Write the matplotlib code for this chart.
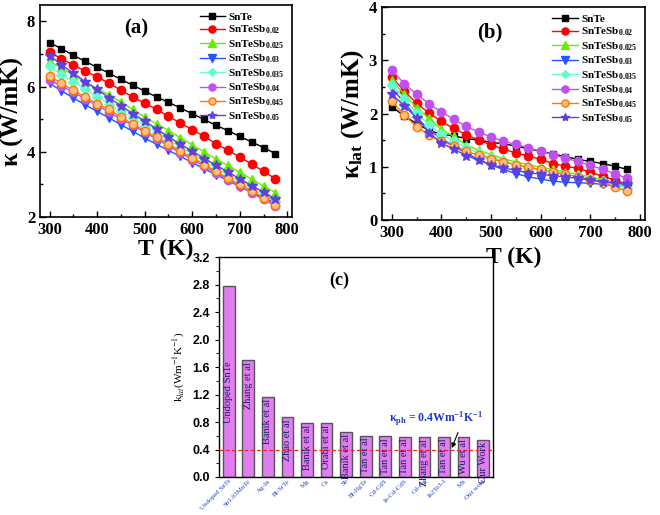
import matplotlib
matplotlib.use('Agg')
import matplotlib.pyplot as plt
from matplotlib.ticker import MultipleLocator

plt.rcParams['font.family'] = ['Liberation Serif', 'DejaVu Serif']
plt.rcParams['mathtext.fontset'] = 'custom'
plt.rcParams['mathtext.rm'] = 'Liberation Serif:bold'
plt.rcParams['mathtext.it'] = 'Liberation Serif:bold'
plt.rcParams['mathtext.bf'] = 'Liberation Serif:bold'

temps = list(range(300, 800, 25))

labels = ['SnTe', 'SnTeSb$_{0.02}$', 'SnTeSb$_{0.025}$', 'SnTeSb$_{0.03}$',
          'SnTeSb$_{0.035}$', 'SnTeSb$_{0.04}$', 'SnTeSb$_{0.045}$', 'SnTeSb$_{0.05}$']

# total thermal conductivity (a)
k_snte = [7.35, 7.16, 6.96, 6.77, 6.59, 6.41, 6.22, 6.04, 5.86, 5.68,
          5.52, 5.34, 5.17, 4.99, 4.81, 4.65, 4.47, 4.30, 4.13, 3.94]
k_002 = [7.06, 6.85, 6.66, 6.47, 6.30, 6.10, 5.89, 5.68, 5.49, 5.30,
         5.09, 4.88, 4.68, 4.47, 4.25, 4.04, 3.84, 3.62, 3.40, 3.17]
k_0025 = [6.77, 6.57, 6.36, 6.15, 5.94, 5.74, 5.53, 5.30, 5.06, 4.86,
          4.65, 4.43, 4.21, 4.00, 3.78, 3.58, 3.37, 3.16, 2.95, 2.75]
k_003 = [6.10, 5.87, 5.65, 5.44, 5.24, 5.04, 4.83, 4.63, 4.42, 4.23,
         4.04, 3.86, 3.67, 3.48, 3.30, 3.12, 2.93, 2.76, 2.57, 2.45]
k_0035 = [6.62, 6.36, 6.15, 5.91, 5.68, 5.47, 5.24, 5.03, 4.80, 4.59,
          4.37, 4.15, 3.93, 3.71, 3.49, 3.29, 3.07, 2.87, 2.67, 2.47]
k_004 = [6.20, 6.02, 5.83, 5.62, 5.42, 5.22, 5.01, 4.81, 4.60, 4.39,
         4.18, 3.97, 3.76, 3.56, 3.35, 3.15, 2.94, 2.74, 2.54, 2.33]
k_0045 = [6.33, 6.10, 5.89, 5.68, 5.48, 5.30, 5.06, 4.85, 4.65, 4.44,
          4.23, 4.02, 3.82, 3.61, 3.40, 3.19, 3.00, 2.81, 2.59, 2.38]
k_005 = [6.95, 6.67, 6.41, 6.15, 5.91, 5.66, 5.41, 5.17, 4.94, 4.70,
         4.46, 4.23, 4.02, 3.79, 3.59, 3.38, 3.17, 2.96, 2.76, 2.55]

# lattice thermal conductivity (b)
kl_snte = [2.13, 1.95, 1.81, 1.68, 1.61, 1.58, 1.53, 1.50, 1.46, 1.43,
           1.39, 1.34, 1.29, 1.24, 1.19, 1.14, 1.10, 1.06, 1.01, 0.95]
kl_002 = [2.68, 2.42, 2.19, 2.01, 1.85, 1.72, 1.60, 1.50, 1.41, 1.33,
          1.26, 1.20, 1.14, 1.06, 1.01, 0.97, 0.90, 0.82, 0.75, 0.67]
kl_0025 = [2.62, 2.36, 2.11, 1.91, 1.70, 1.57, 1.41, 1.31, 1.23, 1.15,
           1.09, 1.04, 0.99, 0.95, 0.90, 0.86, 0.81, 0.76, 0.69, 0.61]
kl_003 = [2.48, 2.20, 1.92, 1.70, 1.52, 1.39, 1.25, 1.14, 1.03, 0.95,
          0.87, 0.81, 0.77, 0.73, 0.71, 0.70, 0.69, 0.67, 0.64, 0.66]
kl_0035 = [2.54, 2.28, 2.01, 1.79, 1.61, 1.48, 1.36, 1.26, 1.17, 1.11,
           1.04, 0.99, 0.95, 0.90, 0.86, 0.82, 0.78, 0.73, 0.67, 0.61]
kl_004 = [2.81, 2.56, 2.36, 2.18, 2.03, 1.89, 1.76, 1.65, 1.56, 1.48,
          1.42, 1.36, 1.29, 1.23, 1.16, 1.10, 1.03, 0.95, 0.87, 0.78]
kl_0045 = [2.23, 1.97, 1.75, 1.59, 1.48, 1.39, 1.29, 1.22, 1.15, 1.09,
           1.04, 0.99, 0.95, 0.90, 0.86, 0.81, 0.76, 0.70, 0.62, 0.54]
kl_005 = [2.36, 2.14, 1.92, 1.64, 1.44, 1.33, 1.21, 1.12, 1.04, 0.98,
          0.93, 0.89, 0.86, 0.83, 0.81, 0.78, 0.75, 0.72, 0.69, 0.67]

# comparison bars (c)
refs = ['Undoped SnTe', 'Zhang et al', 'Banik et al', 'Zhao et al', 'Banik et al',
        'Orabi et al', 'Banik et al', 'Tan et al', 'Tan et al', 'Tan et al',
        'Zhang et al', 'Tan et al', 'Wu et al', 'Our Work']
dopants = ['Undoped SnTe', 'Sn1.03MnTe', 'Ag-In', 'Bi-SrTe', 'Mg', 'Ca', 'Sb',
           'Bi-HgTe', 'Cd-CdS', 'In-Cd-CdS', 'Cd-Ag', 'In2Te3-I', 'Mn', 'Our work']
k_lat_c = [2.78, 1.70, 1.17, 0.87, 0.79, 0.79, 0.66, 0.60,
           0.59, 0.585, 0.585, 0.585, 0.575, 0.54]

colors = ['black', '#ff0000', '#66ee00', '#2255ff', '#66ffcc', '#c050f0', '#ff7700', '#6040e0']
markers = ['s', 'o', '^', 'v', 'D', 'o', 'o', '*']
faces = ['black', '#ff0000', '#66ee00', '#2255ff', '#66ffcc', '#c050f0', '#ffc080', '#6040e0']
sizes = [5, 6, 6, 6, 5, 6, 6, 7]

fig = plt.figure(figsize=(6.6, 5.15), dpi=100)
ax_a = fig.add_axes([0.0606, 0.5786, 0.382, 0.4117])
ax_b = fig.add_axes([0.5788, 0.5728, 0.398, 0.4136])
ax_c = fig.add_axes([0.3318, 0.0738, 0.415, 0.427])

for ax, series in [(ax_a, [k_snte, k_002, k_0025, k_003, k_0035, k_004, k_0045, k_005]),
                   (ax_b, [kl_snte, kl_002, kl_0025, kl_003, kl_0035, kl_004, kl_0045, kl_005])]:
    for ys, lab, c, m, fc, ms in zip(series, labels, colors, markers, faces, sizes):
        ax.plot(temps, ys, color=c, marker=m, markerfacecolor=fc, markeredgecolor=c,
                markersize=ms, lw=1, label=lab)
    ax.set_xlim(280, 810)
    ax.xaxis.set_major_locator(MultipleLocator(100))
    ax.xaxis.set_minor_locator(MultipleLocator(50))
    ax.tick_params(which='both', direction='in', top=False, right=False, width=1)
    ax.tick_params(which='major', length=4, labelsize=12)
    ax.tick_params(which='minor', length=2)
    for t in ax.get_xticklabels() + ax.get_yticklabels():
        t.set_fontweight('bold')
    for s in ax.spines.values():
        s.set_linewidth(1.2)
    ax.set_xlabel('T (K)', fontsize=17, fontweight='bold', labelpad=1)
    ax.legend(loc='upper right', frameon=False,
              prop={'family': 'Liberation Serif', 'weight': 'bold', 'size': 8},
              handlelength=2.3, labelspacing=0.17, borderaxespad=0.25, handletextpad=0.3,
              markerscale=0.85)

ax_a.set_ylim(2, 8.5)
ax_a.yaxis.set_major_locator(MultipleLocator(2))
ax_a.yaxis.set_minor_locator(MultipleLocator(1))
ax_a.set_ylabel('κ (W/mK)', fontsize=18, fontweight='bold', labelpad=2)
ax_a.text(0.38, 0.89, '(a)', transform=ax_a.transAxes, fontsize=15, fontweight='bold',
          ha='center', va='center')

ax_b.set_ylim(0, 4)
ax_b.yaxis.set_major_locator(MultipleLocator(1))
ax_b.yaxis.set_minor_locator(MultipleLocator(0.5))
ax_b.set_ylabel('κ$_{\\rm lat}$ (W/mK)', fontsize=18, fontweight='bold', labelpad=2)
ax_b.xaxis.labelpad = 4
ax_b.text(0.41, 0.88, '(b)', transform=ax_b.transAxes, fontsize=15, fontweight='bold',
          ha='center', va='center')

xs = list(range(len(k_lat_c)))
ax_c.bar(xs, k_lat_c, width=0.6, color='#e07ef0', edgecolor='#555555', linewidth=1)
for x, h, r in zip(xs, k_lat_c, refs):
    ax_c.text(x, min(h - 0.03, 1.68), r, rotation=90, ha='center', va='top',
              fontsize=7.5, color='#1b1b5e')
ax_c.axhline(0.4, color='#ff2020', ls=(0, (3, 2)), lw=0.9)
ax_c.annotate('κ$_{ph}$ = 0.4Wm$^{-1}$K$^{-1}$', xy=(11.4, 0.42), xytext=(10.6, 0.84),
              ha='center', va='center', color='#1a35c8', fontsize=8.5, fontweight='bold',
              arrowprops=dict(arrowstyle='-|>', color='black', lw=0.8, mutation_scale=7,
                              shrinkA=1, shrinkB=0, relpos=(0.75, 0.0)))
ax_c.set_xlim(-0.5, 13.5)
ax_c.set_ylim(0, 3.2)
ax_c.yaxis.set_major_locator(MultipleLocator(0.4))
ax_c.yaxis.set_minor_locator(MultipleLocator(0.2))
ax_c.yaxis.set_major_formatter(plt.FormatStrFormatter('%.1f'))
ax_c.set_xticks(xs)
ax_c.set_xticklabels(dopants, rotation=45, ha='right', rotation_mode='anchor',
                     fontsize=5, color='#2040d0')
ax_c.tick_params(axis='x', length=0, pad=1)
ax_c.tick_params(axis='y', which='major', direction='out', length=3, labelsize=9)
ax_c.tick_params(axis='y', which='minor', direction='out', length=2)
for t in ax_c.get_yticklabels():
    t.set_fontfamily('Liberation Sans')
    t.set_fontweight('bold')
for s in ax_c.spines.values():
    s.set_linewidth(1)
ax_c.set_ylabel('k$_{lat}$(Wm$^{-1}$K$^{-1}$)', fontsize=8, math_fontfamily='stix', labelpad=4)
ax_c.text(0.44, 0.895, '(c)', transform=ax_c.transAxes, fontsize=13, fontweight='bold',
          ha='center', va='center')

fig.savefig('out.png', dpi=100)
